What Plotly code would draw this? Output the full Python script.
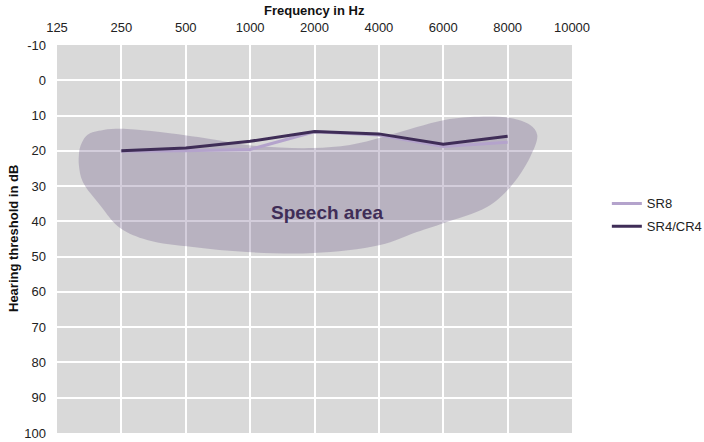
import plotly.graph_objects as go

freq_labels = ["125", "250", "500", "1000", "2000", "4000", "6000", "8000", "10000"]
line_freqs = ["250", "500", "1000", "2000", "4000", "6000", "8000"]
sr8_db = [20.1, 20.0, 19.6, 14.6, 15.5, 18.8, 17.6]
sr4_db = [20.0, 19.2, 17.3, 14.5, 15.2, 18.1, 15.9]
y_ticks = [-10, 0, 10, 20, 30, 40, 50, 60, 70, 80, 90, 100]
y_tick_labels = ["-10", "0", "10", "20", "30", "40", "50", "60", "70", "80", "90", "100"]

# speech-area outline (x in frequency-slot units, y in dB)
speech_x = [3.98, 2.95, 2.11, 1.40, 0.98, 0.67, 0.40, 0.34, 0.34, 0.36, 0.47, 0.72, 1.09,
            1.60, 2.38, 2.95, 3.46, 3.98, 4.55, 5.06, 5.59, 6.00, 6.42, 7.04, 7.35,
            7.46, 7.35, 7.04, 6.68, 6.00, 5.59, 5.02, 3.98]
speech_y = [49.0, 48.7, 47.3, 45.3, 41.9, 35.4, 28.8, 24.0, 21.2, 18.9, 15.5, 14.1, 13.8,
            14.7, 16.65, 18.35, 19.06, 19.2, 18.35, 16.1, 13.25, 11.3, 10.4, 10.7, 12.7,
            15.5, 21.75, 30.3, 35.9, 40.5, 43.0, 46.7, 49.0]
speech_label = "Speech area"
label_pos = (4.19, 37.6)

idx = {f: i for i, f in enumerate(freq_labels)}
line_x = [idx[f] for f in line_freqs]

FONT = "Liberation Sans, Arial"

fig = go.Figure()
fig.add_trace(go.Scatter(
    x=speech_x, y=speech_y, mode="lines", fill="toself",
    line=dict(width=0, shape="spline", smoothing=1.0),
    fillcolor="rgba(110,90,135,0.30)", showlegend=False, hoverinfo="skip"))
fig.add_trace(go.Scatter(
    x=line_x, y=sr8_db, mode="lines", name="SR8", legendgroup="a",
    line=dict(color="#b4a3cc", width=3)))
fig.add_trace(go.Scatter(
    x=line_x, y=sr4_db, mode="lines", name="SR4/CR4", legendgroup="b",
    line=dict(color="#3f2d57", width=3)))

fig.add_annotation(x=label_pos[0], y=label_pos[1], text="<b>" + speech_label + "</b>",
                   showarrow=False,
                   font=dict(family=FONT, size=19, color="#3f2d57"),
                   xanchor="center", yanchor="middle")

# axis titles placed as annotations
fig.add_annotation(xref="paper", yref="paper", x=0.5, y=1.0, yshift=35,
                   text="<b>Frequency in Hz</b>", showarrow=False,
                   font=dict(family=FONT, size=13, color="#111"),
                   xanchor="center", yanchor="middle")
fig.add_annotation(xref="paper", yref="paper", x=0, y=0.5, xshift=-44,
                   text="<b>Hearing threshold in dB</b>", showarrow=False, textangle=-90,
                   font=dict(family=FONT, size=13, color="#111"),
                   xanchor="center", yanchor="middle")

fig.update_layout(
    width=704, height=442,
    margin=dict(l=57, r=132, t=45, b=9),
    paper_bgcolor="white", plot_bgcolor="#d9d9d9",
    font=dict(family=FONT, size=13, color="#222"),
    xaxis=dict(side="top", range=[0, 8], tickvals=list(range(len(freq_labels))),
               ticktext=freq_labels, showgrid=True, gridcolor="white", gridwidth=1.5,
               zeroline=False, showline=False, ticks="", ticklabelstandoff=9,
               automargin=False),
    yaxis=dict(range=[100, -10], tickvals=y_ticks, ticktext=y_tick_labels,
               showgrid=True, gridcolor="white",
               gridwidth=1.5, zeroline=False, showline=False, ticks="",
               ticklabelstandoff=10, automargin=False),
    legend=dict(xref="container", x=0.862, y=0.562, xanchor="left", yanchor="middle",
                font=dict(size=13, color="#222"), bgcolor="rgba(0,0,0,0)",
                tracegroupgap=3, itemwidth=30, traceorder="grouped"),
)

fig.write_html("out.html", config={"displayModeBar": False},
               post_script="document.body.style.margin='0';document.body.style.overflow='hidden';")
